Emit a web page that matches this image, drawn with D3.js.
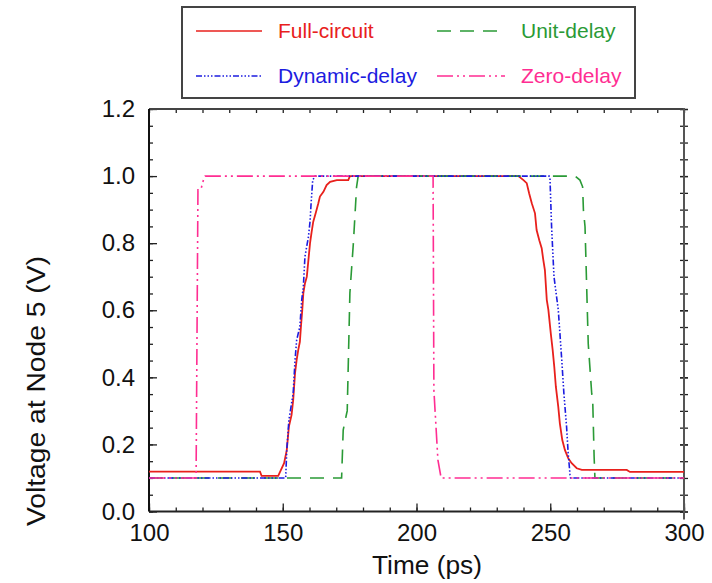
<!DOCTYPE html>
<html>
<head>
<meta charset="utf-8">
<script src="https://cdn.jsdelivr.net/npm/d3@7"></script>
<style>
  body { margin: 0; background: #fff; }
  text { font-family: "Liberation Sans", Arial, sans-serif; }
</style>
</head>
<body>
<script>
// time (ps), voltage (V)
const fullCircuit = [
  [100, 0.119], [141.5, 0.119], [142.1, 0.106], [148.3, 0.106], [150.5, 0.144],
  [151.5, 0.183], [152.3, 0.253], [153.3, 0.288], [153.9, 0.332], [154.6, 0.413],
  [155.2, 0.452], [155.8, 0.482], [156.4, 0.506], [156.8, 0.551], [157.3, 0.601],
  [157.7, 0.651], [158.3, 0.680], [159.0, 0.700], [159.6, 0.750], [160.2, 0.800],
  [160.8, 0.834], [161.4, 0.864], [162.3, 0.889], [163.3, 0.919], [163.9, 0.939],
  [165.2, 0.953], [166.4, 0.973], [167.7, 0.983], [170.2, 0.988], [174.5, 0.988],
  [175.1, 1.0], [238.1, 1.0], [240.0, 0.988], [241.2, 0.979], [242.1, 0.949],
  [243.1, 0.919], [244.3, 0.889], [244.9, 0.839], [245.9, 0.809], [246.8, 0.785],
  [247.4, 0.750], [248.0, 0.720], [248.7, 0.631], [249.3, 0.601], [250.2, 0.531],
  [250.9, 0.482], [251.5, 0.432], [252.1, 0.372], [253.0, 0.312], [253.6, 0.262],
  [254.5, 0.213], [255.5, 0.183], [256.7, 0.159], [258.0, 0.144], [259.9, 0.129],
  [261.8, 0.124], [278.6, 0.124], [279.8, 0.118], [300, 0.118]
];
const unitDelay = [
  [100, 0.1], [172.0, 0.1], [172.6, 0.243], [173.9, 0.293], [174.1, 0.30],
  [175.1, 0.651], [176.4, 0.800], [177.6, 0.968], [178.2, 1.0], [259.3, 1.0],
  [261.1, 0.988], [262.1, 0.968], [262.4, 0.899], [263.0, 0.849], [264.2, 0.501],
  [265.5, 0.352], [265.9, 0.323], [266.4, 0.163], [266.7, 0.1], [300, 0.1]
];
const dynamicDelay = [
  [100, 0.1], [151.1, 0.1], [151.5, 0.183], [152.3, 0.273], [153.9, 0.352],
  [154.6, 0.452], [155.2, 0.511], [156.4, 0.551], [157.1, 0.631], [157.7, 0.670],
  [158.3, 0.760], [159.6, 0.819], [160.2, 0.864], [160.6, 0.919], [161.2, 0.988],
  [162.1, 1.0], [249.6, 1.0], [249.9, 0.993], [250.5, 0.849], [251.4, 0.700],
  [253.0, 0.601], [254.3, 0.452], [255.1, 0.352], [256.1, 0.253], [256.7, 0.174],
  [257.4, 0.109], [257.6, 0.1], [300, 0.1]
];
const zeroDelay = [
  [100, 0.1], [117.6, 0.1], [118.3, 0.959], [119.4, 0.96], [120.4, 0.99],
  [121.0, 1.0], [206.2, 1.0], [206.5, 0.362], [208.0, 0.154], [209.2, 0.1],
  [300, 0.1]
];

const seriesNames = ['Full-circuit', 'Unit-delay', 'Dynamic-delay', 'Zero-delay'];
const seriesColors = ['#e8201c', '#2a9a36', '#1c1ce0', '#ff2d92'];
const seriesDash = ['none', '14,9', '6,2,1.5,2,1.5,2,1.5,2', '16,4,2,4,2,4'];
const seriesData = [fullCircuit, unitDelay, dynamicDelay, zeroDelay];

const xMajor = [100, 150, 200, 250, 300];
const yMajor = [0, 0.2, 0.4, 0.6, 0.8, 1.0, 1.2];
const xLabel = 'Time (ps)';
const yLabel = 'Voltage at Node 5 (V)';

const w = 712, h = 583;
const plotL = 149, plotR = 684, plotT = 109, plotB = 511.5;

const svg = d3.select('body').append('svg')
  .attr('width', w)
  .attr('height', h);

const x = d3.scaleLinear().domain([100, 300]).range([plotL, plotR]);
const y = d3.scaleLinear().domain([0, 1.2]).range([plotB, plotT]);

const xMinor = d3.range(100, 301, 10);
const yMinor = d3.range(0, 1.2001, 0.05);

// minor ticks
svg.append('g').attr('transform', `translate(0,${plotB})`)
  .call(d3.axisBottom(x).tickValues(xMinor).tickSize(-4).tickFormat(''));
svg.append('g').attr('transform', `translate(0,${plotT})`)
  .call(d3.axisTop(x).tickValues(xMinor).tickSize(-4).tickFormat(''));
svg.append('g').attr('transform', `translate(${plotL},0)`)
  .call(d3.axisLeft(y).tickValues(yMinor).tickSize(-4).tickFormat(''));
svg.append('g').attr('transform', `translate(${plotR - 4},0)`)
  .call(d3.axisRight(y).tickValues(yMinor).tickSize(8).tickFormat(''));

// major ticks with labels
const xAxisG = svg.append('g').attr('transform', `translate(0,${plotB})`)
  .call(d3.axisBottom(x).tickValues(xMajor).tickSize(-8).tickPadding(12).tickFormat(d3.format('d')));
const yAxisG = svg.append('g').attr('transform', `translate(${plotL},0)`)
  .call(d3.axisLeft(y).tickValues(yMajor).tickSize(-8).tickPadding(14).tickFormat(d3.format('.1f')));
svg.append('g').attr('transform', `translate(${plotR - 4},0)`)
  .call(d3.axisRight(y).tickValues(yMajor).tickSize(8).tickFormat(''));

svg.selectAll('.domain').remove();
svg.selectAll('.tick line').attr('stroke', '#222').attr('stroke-width', 1.3);
xAxisG.selectAll('text').attr('font-size', 24).attr('fill', '#111');
yAxisG.selectAll('text').attr('font-size', 24).attr('fill', '#111');

// frame
svg.append('line').attr('x1', plotL).attr('x2', plotR).attr('y1', plotT).attr('y2', plotT)
  .attr('stroke', '#444').attr('stroke-width', 2);
svg.append('line').attr('x1', plotL).attr('x2', plotR).attr('y1', plotB).attr('y2', plotB)
  .attr('stroke', '#222').attr('stroke-width', 2);
svg.append('line').attr('x1', plotL).attr('x2', plotL).attr('y1', plotT).attr('y2', plotB)
  .attr('stroke', '#111').attr('stroke-width', 2);
svg.append('line').attr('x1', plotR).attr('x2', plotR).attr('y1', plotT - 1).attr('y2', plotB + 8)
  .attr('stroke', '#555').attr('stroke-width', 2);

// curves
const line = d3.line().x(d => x(d[0])).y(d => y(d[1]));
seriesData.forEach((data, i) => {
  svg.append('path')
    .datum(data)
    .attr('d', line)
    .attr('fill', 'none')
    .attr('stroke', seriesColors[i])
    .attr('stroke-width', i == 0 ? 1.8 : 1.6)
    .attr('stroke-dasharray', seriesDash[i]);
});

// axis titles
svg.append('text')
  .attr('x', 427).attr('y', 574)
  .attr('text-anchor', 'middle')
  .attr('font-size', 25)
  .attr('fill', '#111')
  .attr('textLength', 110)
  .attr('lengthAdjust', 'spacingAndGlyphs')
  .text(xLabel);
svg.append('text')
  .attr('transform', 'translate(45,391) rotate(-90)')
  .attr('text-anchor', 'middle')
  .attr('font-size', 25)
  .attr('fill', '#111')
  .attr('textLength', 270)
  .attr('lengthAdjust', 'spacingAndGlyphs')
  .text(yLabel);

// legend
svg.append('rect')
  .attr('x', 182).attr('y', 7).attr('width', 453).attr('height', 91)
  .attr('fill', '#fff').attr('stroke', '#444').attr('stroke-width', 2);

const legendPos = [[196, 31], [437, 31], [196, 76], [437, 76]];
seriesNames.forEach((name, i) => {
  const [lx, ly] = legendPos[i];
  svg.append('line')
    .attr('x1', lx).attr('x2', lx + (i % 2 == 0 ? 66 : 68))
    .attr('y1', ly).attr('y2', ly)
    .attr('stroke', seriesColors[i])
    .attr('stroke-width', 1.6)
    .attr('stroke-dasharray', seriesDash[i]);
  svg.append('text')
    .attr('x', lx + (i % 2 == 0 ? 82 : 84)).attr('y', ly + 7)
    .attr('font-size', 21)
    .attr('fill', seriesColors[i])
    .text(name);
});
</script>
</body>
</html>
